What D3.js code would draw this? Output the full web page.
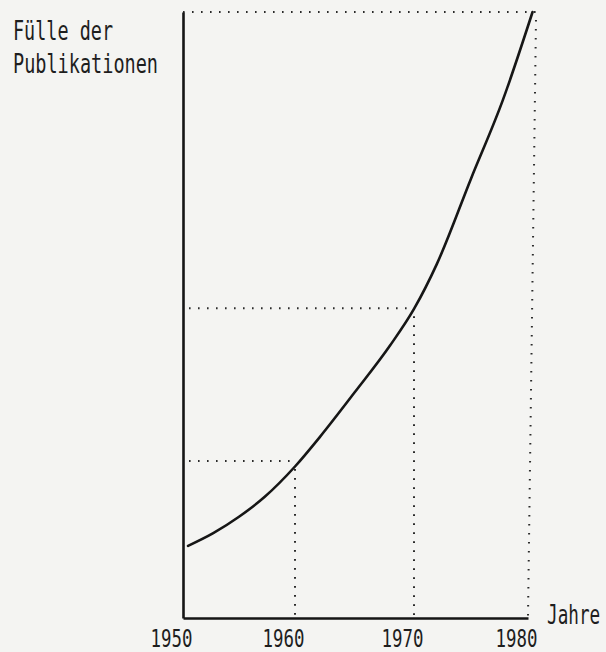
<!DOCTYPE html>
<html>
<head>
<meta charset="utf-8">
<script src="https://cdn.jsdelivr.net/npm/d3@7.9.0/dist/d3.min.js"></script>
<style>
  html, body { margin: 0; padding: 0; background: #f4f4f2; }
  svg { display: block; }
  text { font-family: "DejaVu Sans Mono", monospace; fill: #1e1e1e; }
</style>
</head>
<body>
<div id="chart"></div>
<script>
// data (hand drawn curve, relative units 0..100)
const years = [1950.45, 1952.7, 1955, 1957.3, 1960, 1962.1, 1965, 1968, 1970, 1972, 1975, 1977.8, 1980.4];
const fuelle = [11.9, 14.0, 16.7, 20.0, 25.0, 29.9, 37.2, 45.0, 51.0, 58.4, 72.5, 85.5, 100];

// dotted guides: each decade level
const guideYears = [1960, 1970, 1980];
const guideValues = [25.9, 51.1, 100];

const tickYears = [1950, 1960, 1970, 1980];
const yLabel = ["Fülle der", "Publikationen"];
const xLabel = "Jahre";

const width = 606, height = 652;

const svg = d3.select("#chart")
  .append("svg")
  .attr("width", width)
  .attr("height", height);

// the hand drawn ticks are not quite evenly spaced
const x = d3.scaleLinear()
  .domain([1950, 1960, 1970, 1980])
  .range([183, 295, 414, 528]);

const y = d3.scaleLinear()
  .domain([0, 100])
  .range([618, 12]);

// dotted guides
const guides = svg.append("g")
  .attr("fill", "none")
  .attr("stroke", "#2a2a2a")
  .attr("stroke-width", 2)
  .attr("stroke-dasharray", "1.6 7.4");

guideYears.forEach((yr, i) => {
  const last = i === guideYears.length - 1;
  const xTop = last ? x(1980.7) : x(yr);
  guides.append("line")
    .attr("x1", last ? x(1950) : x(1950) + 6)
    .attr("x2", xTop)
    .attr("y1", y(guideValues[i]))
    .attr("y2", y(guideValues[i]));
  guides.append("line")
    .attr("x1", xTop)
    .attr("x2", x(yr))
    .attr("y1", y(guideValues[i]) + 8)
    .attr("y2", y(0) - 2);
});

// axes
const xAxis = svg.append("g")
  .attr("transform", `translate(0,${y(0)})`)
  .call(d3.axisBottom(x).tickValues(tickYears).tickSize(0).tickPadding(11).tickFormat(d3.format("d")));

xAxis.select(".domain")
  .attr("stroke", "#151515")
  .attr("stroke-width", 2.6);

xAxis.selectAll(".tick text")
  .attr("dx", -12)
  .attr("font-size", 25)
  .attr("textLength", 42)
  .attr("lengthAdjust", "spacingAndGlyphs")
  .style("font-family", "'DejaVu Sans Mono', monospace")
  .attr("fill", "#1e1e1e");

const yAxis = svg.append("g")
  .attr("transform", `translate(${x(1950)},0)`)
  .call(d3.axisLeft(y).tickValues([]).tickSizeOuter(0));

yAxis.select(".domain")
  .attr("stroke", "#151515")
  .attr("stroke-width", 2.6);

// curve
const line = d3.line()
  .x((d, i) => x(years[i]))
  .y(d => y(d))
  .curve(d3.curveMonotoneX);

svg.append("path")
  .datum(fuelle)
  .attr("fill", "none")
  .attr("stroke", "#161616")
  .attr("stroke-width", 2.6)
  .attr("stroke-linecap", "round")
  .attr("d", line);

// axis titles
svg.append("text")
  .attr("x", 13)
  .attr("y", 40)
  .attr("font-size", 26)
  .attr("textLength", 100)
  .attr("lengthAdjust", "spacingAndGlyphs")
  .text(yLabel[0]);

svg.append("text")
  .attr("x", 13)
  .attr("y", 73)
  .attr("font-size", 26)
  .attr("textLength", 145)
  .attr("lengthAdjust", "spacingAndGlyphs")
  .text(yLabel[1]);

// narrow typewriter look: squeeze horizontally so it stays inside the frame
svg.append("text")
  .attr("transform", "translate(547,624) scale(0.68,1)")
  .attr("font-size", 26)
  .text(xLabel);
</script>
</body>
</html>
